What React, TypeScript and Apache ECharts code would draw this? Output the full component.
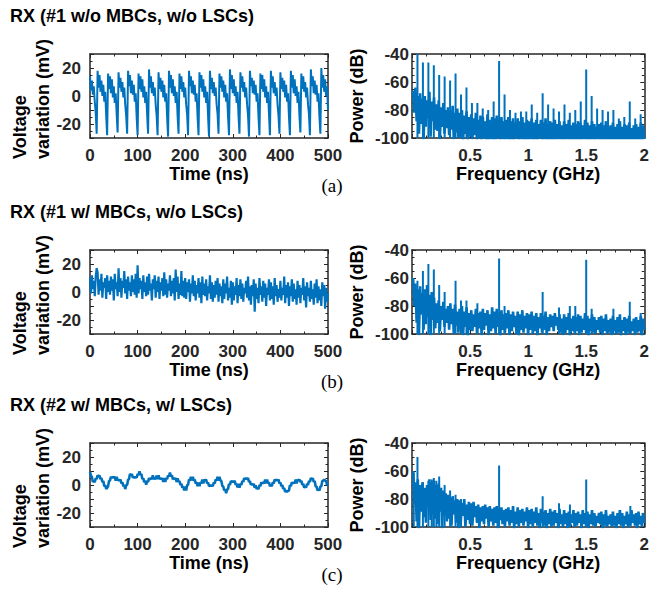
import React, { useEffect, useRef } from "react";
import * as echarts from "echarts";

// ---------- DATA ----------
const TIME_STEP_NS = 2;
const FREQ_STEP_GHZ = 0.01;

const titles = [
  "RX (#1 w/o MBCs, w/o LSCs)",
  "RX (#1 w/ MBCs, w/o LSCs)",
  "RX (#2 w/ MBCs, w/ LSCs)",
];
const panelLabels = ["(a)", "(b)", "(c)"];
const timeTicks = [0, 100, 200, 300, 400, 500];
const voltTicks = [-20, 0, 20];
const freqTicks = [0.5, 1, 1.5, 2];
const powerTicks = [-100, -80, -60, -40];

// Voltage variation (mV), sampled every 2 ns
const voltageA = [
  14, 4, 11, 1, 7, -4, -12,
  -27, 18, 6, 15, 3, 11, 0, 8, -4, 3, -14,
  -28, 16, 5, 14, 2, 12, -1, 7, -5, 2, -13,
  -26, 17, 6, 13, 3, 10, -1, 6, -6, -14,
  -27, 18, 7, 15, 2, 11, 1, 8, -4, 2, -15,
  -28, 16, 5, 14, 3, 12, -1, 7, -5, 3, -13,
  -27, 19, 6, 14, 2, 10, 0, 6, -6, -14,
  -28, 17, 5, 13, 3, 11, -1, 8, -4, 2, -15,
  -29, 18, 6, 15, 2, 12, 0, 7, -5, 3, -14,
  -27, 16, 5, 14, 3, 10, -1, 6, -6, -13,
  -28, 18, 7, 14, 2, 11, 1, 8, -4, 2, -15,
  -28, 17, 6, 15, 3, 12, -1, 7, -5, 3, -14,
  -29, 18, 5, 13, 2, 10, 0, 6, -6, -13,
  -27, 16, 6, 14, 3, 11, -1, 8, -4, 2, -15,
  -28, 19, 5, 15, 2, 12, 0, 7, -5, 3, -14,
  -27, 17, 6, 14, 3, 10, -1, 6, -6, -14,
  -29, 18, 7, 13, 2, 11, 1, 8, -4, 2, -15,
  -28, 16, 5, 15, 3, 12, -1, 7, -5, 3, -13,
  -28, 18, 6, 14, 2, 10, 0, 6, -6, -14,
  -27, 17, 5, 13, 3, 11, -1, 8, -4, 2, -15,
  -28, 18, 6, 15, 2, 12, 0, 7, -5, 3, -14,
  -26, 16, 5, 14, 3, 10, -1, 6, -6, -13,
  -28, 19, 7, 14, 2, 11, 1, 8, -4, 2, -15,
  -27, 20, 6, 15, 3, 12, 0, 7, -10,
];

const voltageB = [
  10, -1, 12, 2, 8, -3, 11, 17, 14, -2,
  9, 1, 13, -4, 7, 3, 10, -5, 12, 0,
  8, -2, 11, 1, 9, -6, 13, 2, 7, -3,
  17, 0, 10, -4, 8, 3, 15, -1, 9, -5,
  11, 1, 7, -3, 12, 0, 9, -2, 13, -4,
  19, -1, 10, 2, 8, -5, 12, 0, 7, -3,
  11, -2, 13, 1, 6, -6, 9, 2, 12, -4,
  8, 0, 11, -5, 7, 1, 10, -3, 14, -2,
  9, -4, 6, 1, 12, -3, 8, -1, 10, -6,
  16, 0, 11, -5, 6, -2, 15, -3, 8, -4,
  10, -5, 7, 0, 9, -7, 6, -1, 12, -3,
  8, -6, 5, -1, 10, -4, 7, -8, 11, -2,
  6, -3, 9, -6, 4, -1, 12, -5, 7, -7,
  5, -4, 8, -2, 10, -7, 6, -3, 4, -8,
  9, -5, 6, -1, 11, -6, 3, -4, 8, -9,
  7, -6, 4, -2, 10, -8, 5, -3, 9, -5,
  6, -7, 3, -1, 8, -4, 11, -6, 4, -9,
  5, -3, 9, -14, 6, -5, 3, -8, 10, -2,
  4, -7, 8, -4, 6, -10, 3, -2, 9, -6,
  7, -5, 4, -9, 10, -3, 5, -7, 2, -4,
  8, -6, 3, -2, 11, -8, 5, -4, 7, -10,
  4, -3, 9, -7, 6, -5, 2, -9, 8, -4,
  5, -8, 3, -2, 10, -6, 4, -11, 7, -3,
  3, -7, 8, -5, 2, -9, 6, -4, 9, -8,
  4, -6, 2, -10, 7, -3, 5, -12, 3, -7,
  -1,
];

const voltageC = [
  9.5, 6.5, 5.8, 2.2, 2.9, 2.1, 4.8, 4.2, 6.9, 6.1, 6.8,
  4.2, 4.9, 2.1, 2.8, -0.9, -0.2, -2.8, -2.1, -0.8, 2.9,
  3.2, 5.9, 5.1, 5.8, 5.2, 5.9, 3.1, 5.8, 3.2, 3.9,
  3.1, 3.8, 1.2, 1.9, -0.8, -0.1, -2.9, -0.2, 0.1, 3.8,
  4.2, 7.9, 7.1, 7.8, 5.2, 5.9, 5.1, 5.9, 5.2, 7.8,
  7.2, 9.8, 7.1, 7.9, 4.2, 4.8, 2.1, 2.9, 0.2, 2.8,
  2.2, 4.9, 4.1, 4.8, 4.2, 6.9, 4.1, 4.9, 4.2, 6.8,
  4.1, 6.9, 4.2, 4.9, 4.1, 4.8, 2.2, 4.9, 2.1, 4.9,
  4.2, 6.8, 6.1, 8.9, 6.2, 6.9, 4.1, 4.8, 4.2, 4.9,
  2.1, 4.8, 2.2, 2.9, 0.1, 0.8, -1.9, -1.2, -3.8, -1.1,
  -3.9, -0.2, 0.1, 3.9, 3.1, 5.8, 3.2, 5.9, 3.1, 3.8,
  1.2, 1.9, -0.9, 1.8, -0.8, 1.9, 1.1, 3.9, 1.2, 3.8,
  3.2, 3.9, 1.1, 1.8, -0.9, -0.2, -0.8, -0.1, -0.9, 1.8,
  1.1, 3.9, 3.2, 5.9, 3.1, 5.8, 3.2, 2.9, -0.8, -1.1,
  -3.9, -3.1, -5.8, -3.2, -2.9, 0.8, 0.1, 2.9, 2.1, 2.8,
  2.1, 2.9, 0.2, 0.9, -1.8, 0.9, -1.9, 0.8, 0.1, 2.9,
  2.2, 4.9, 4.1, 4.9, 4.2, 4.9, 2.1, 2.8, 0.2, 0.9,
  0.1, 0.8, -1.9, -0.2, -2.8, -2.1, -2.9, -0.1, -0.9, 1.9,
  1.1, 1.9, 1.2, 3.9, 1.1, 3.8, 1.2, 1.9, -0.9, -0.1,
  -0.8, 1.9, 1.1, 3.8, 3.2, 3.9, 3.1, 3.9, 1.2, 1.8,
  -0.9, -0.1, -2.8, -2.1, -4.9, -4.1, -4.8, -4.2, -3.9, -0.1,
  -0.8, 1.9, 1.1, 1.9, 1.2, 3.9, 1.1, 3.8, 3.2, 3.9,
  2.1, 2.9, 0.2, 0.8, -1.9, -1.1, -1.8, 0.9, 0.1, 2.9,
  2.2, 4.9, 4.1, 4.8, 2.2, 2.9, -0.9, -1.2, -3.9, -3.1,
  -3.8, -1.1, -0.9, 2.9, 3.1, 3.9, 3.2, 2.9, 0.1, 0.8,
];

// Power spectrum noise floor (dB), sampled every 0.01 GHz from 0.01 GHz
// (values under -100 dB fall below the plotted range)
const floorA = [
  -66, -82, -64, -88, -70, -97, -68, -90, -72, -101,
  -70, -92, -73, -86, -67, -99, -74, -88, -71, -94,
  -76, -95, -73, -101, -78, -92, -75, -97, -80, -93,
  -78, -98, -81, -94, -77, -101, -82, -96, -79, -100,
  -82, -99, -80, -102, -84, -97, -81, -103, -85, -99,
  -83, -101, -86, -98, -82, -104, -87, -100, -84, -102,
  -85, -100, -88, -103, -83, -104, -87, -101, -85, -102,
  -86, -103, -84, -100, -87, -104, -85, -101, -88, -103,
  -87, -101, -85, -104, -88, -102, -86, -103, -89, -100,
  -86, -104, -88, -101, -85, -103, -89, -102, -87, -104,
  -88, -101, -86, -103, -89, -102, -87, -104, -90, -100,
  -87, -103, -89, -101, -86, -104, -90, -102, -88, -103,
  -89, -102, -87, -104, -90, -101, -88, -103, -91, -104,
  -88, -103, -90, -101, -87, -104, -91, -102, -89, -103,
  -90, -102, -88, -104, -89, -103, -91, -101, -87, -103,
  -89, -104, -91, -102, -88, -103, -90, -104, -92, -101,
  -90, -103, -89, -104, -91, -102, -88, -103, -92, -104,
  -91, -104, -89, -102, -92, -103, -90, -104, -88, -102,
  -92, -102, -90, -104, -91, -103, -89, -104, -93, -102,
  -91, -104, -90, -103, -92, -102, -89, -104, -91, -101,
];
const floorB = [
  -60, -80, -64, -92, -68, -101, -66, -86, -71, -97,
  -68, -93, -65, -88, -72, -101, -70, -90, -74, -96,
  -78, -92, -76, -98, -80, -90, -77, -95, -82, -92,
  -80, -97, -78, -93, -82, -100, -79, -94, -84, -99,
  -82, -96, -80, -101, -84, -95, -81, -102, -85, -97,
  -83, -98, -86, -95, -82, -100, -85, -96, -84, -101,
  -82, -97, -85, -94, -83, -101, -86, -98, -81, -96,
  -84, -100, -82, -95, -85, -102, -83, -97, -86, -99,
  -85, -96, -83, -101, -86, -98, -84, -95, -87, -100,
  -84, -102, -86, -97, -83, -99, -87, -96, -85, -101,
  -86, -97, -84, -100, -87, -98, -85, -102, -88, -96,
  -85, -99, -87, -97, -84, -101, -88, -98, -86, -95,
  -87, -98, -85, -94, -88, -97, -86, -99, -89, -101,
  -86, -100, -88, -97, -85, -102, -89, -98, -87, -99,
  -88, -98, -86, -101, -87, -99, -89, -97, -85, -100,
  -87, -102, -89, -98, -86, -99, -88, -100, -90, -97,
  -88, -99, -87, -101, -89, -98, -86, -100, -90, -99,
  -89, -101, -87, -98, -90, -100, -88, -99, -86, -102,
  -90, -98, -88, -101, -89, -99, -87, -100, -91, -98,
  -89, -101, -88, -99, -90, -98, -87, -102, -89, -97,
];
const floorC = [
  -60, -84, -68, -96, -66, -101, -70, -89, -68, -93,
  -72, -97, -70, -86, -66, -95, -68, -91, -67, -94,
  -70, -98, -69, -89, -72, -101, -74, -92, -76, -96,
  -77, -94, -79, -99, -78, -91, -81, -97, -80, -101,
  -81, -96, -83, -92, -80, -100, -84, -95, -82, -98,
  -83, -99, -82, -93, -85, -97, -84, -101, -86, -96,
  -85, -98, -84, -94, -86, -100, -85, -96, -87, -99,
  -86, -97, -85, -101, -87, -95, -86, -98, -88, -100,
  -87, -96, -86, -99, -88, -97, -85, -101, -89, -98,
  -86, -100, -88, -97, -87, -99, -89, -96, -86, -101,
  -88, -98, -87, -100, -89, -97, -86, -99, -90, -101,
  -87, -97, -89, -99, -88, -101, -90, -98, -87, -100,
  -89, -99, -88, -97, -90, -101, -87, -98, -91, -100,
  -88, -98, -90, -101, -89, -99, -91, -97, -88, -100,
  -90, -99, -89, -97, -91, -101, -88, -98, -90, -100,
  -89, -101, -91, -98, -88, -99, -90, -100, -92, -97,
  -90, -98, -89, -101, -91, -99, -88, -100, -92, -98,
  -91, -100, -89, -99, -92, -101, -90, -98, -88, -99,
  -90, -101, -92, -98, -89, -100, -91, -99, -88, -97,
  -91, -99, -90, -101, -89, -98, -92, -100, -90, -97,
];

// Spectral lines: frequency (GHz) and peak power (dB)
const spikeFreqA = [
  0.047, 0.094, 0.141, 0.188, 0.234, 0.281, 0.328, 0.375, 0.422, 0.469,
  0.516, 0.563, 0.609, 0.656, 0.703, 0.75, 0.797, 0.844, 0.891, 0.938,
  0.984, 1.031, 1.078, 1.125, 1.172, 1.219, 1.266, 1.313, 1.359, 1.406,
  1.453, 1.5, 1.547, 1.594, 1.641, 1.688, 1.734, 1.781, 1.828, 1.875,
  1.922, 1.969,
];
const spikePowA = [
  -40, -46, -46, -48, -55, -56, -59, -54, -69, -64,
  -75, -75, -79, -80, -74, -45, -69, -80, -82, -81,
  -81, -76, -82, -68, -76, -79, -81, -76, -82, -80,
  -74, -51, -70, -79, -80, -81, -80, -86, -85, -74,
  -86, -83,
];
const spikeFreqB = [
  0.047, 0.094, 0.141, 0.188, 0.234, 0.281, 0.375, 0.422, 0.469, 0.563,
  0.75, 0.797, 1.125, 1.266, 1.359, 1.406, 1.5, 1.547, 1.734, 1.875, 1.969,
];
const spikePowB = [
  -62, -55, -50, -54, -65, -70, -62, -76, -76, -78,
  -46, -80, -70, -81, -80, -80, -47, -82, -82, -77, -85,
];
const spikeFreqC = [
  0.015, 0.047, 0.094, 0.141, 0.17, 0.188, 0.21, 0.234, 0.281, 0.328,
  0.375, 0.422, 0.75, 1.125, 1.266, 1.36, 1.5, 1.88,
];
const spikePowC = [
  -61, -50, -68, -67, -66, -65, -67, -64, -70, -74,
  -77, -80, -56, -78, -83, -84, -66, -85,
];

// ---------- BUILD ----------
const timeSeries = (vals: number[]) => vals.map((v, i) => [i * TIME_STEP_NS, v]);
const floorSeries = (floor: number[]) =>
  floor.map((v, i) => [+((i + 1) * FREQ_STEP_GHZ).toFixed(3), v]);
const spikeSeries = (sf: number[], sp: number[]) => {
  const pts: any[] = [];
  sf.forEach((f, i) => {
    pts.push([f, -100], [f, sp[i]], [f, "-"]);
  });
  return pts;
};

const timeData = [voltageA, voltageB, voltageC].map(timeSeries);
const floorData = [floorA, floorB, floorC].map(floorSeries);
const spikeData = [
  spikeSeries(spikeFreqA, spikePowA),
  spikeSeries(spikeFreqB, spikePowB),
  spikeSeries(spikeFreqC, spikePowC),
];

const AXIS_COLOR = "#262626";
const LINE_COLOR = "#0072BD";
const FONT = "Liberation Sans";
const timeWidths = [2.0, 2.2, 2.6];

export default function App() {
  const ref = useRef<HTMLDivElement>(null);
  useEffect(() => {
    document.body.style.margin = "0";
    const chart = echarts.init(ref.current!, undefined, { renderer: "svg" });

    const rowTops = [54, 250, 443];
    const gridH = 84;
    const leftX = 90;
    const rightX = 412;
    const gridW = 238;

    const grids: any[] = [];
    const xAxes: any[] = [];
    const yAxes: any[] = [];
    const series: any[] = [];
    const graphics: any[] = [];

    const axisLine = { show: true, onZero: false, lineStyle: { color: AXIS_COLOR, width: 1.5 } };
    const tickStyle = { show: true, inside: true, length: 4, lineStyle: { color: AXIS_COLOR, width: 1 } };
    const labelStyle = { color: AXIS_COLOR, fontSize: 17, fontWeight: "bold", fontFamily: FONT };

    rowTops.forEach((top, r) => {
      for (let c = 0; c < 2; c++) {
        const g = grids.length;
        grids.push({ left: c === 0 ? leftX : rightX, top, width: gridW, height: gridH, containLabel: false });
        const isTime = c === 0;
        const xBase = isTime
          ? { min: 0, max: 500, interval: 100, minorSplit: 2 }
          : { min: 0, max: 2, interval: 0.5, minorSplit: 4 };
        const yBase = isTime
          ? { min: -30, max: 30, interval: 10, minorSplit: 2 }
          : { min: -100, max: -40, interval: 20, minorSplit: 4 };
        const xLabelSet = isTime ? timeTicks : freqTicks;
        const yLabelSet = isTime ? voltTicks : powerTicks;
        [0, 1].forEach((k) => {
          xAxes.push({
            type: "value",
            gridIndex: g,
            position: k === 0 ? "bottom" : "top",
            min: xBase.min,
            max: xBase.max,
            interval: xBase.interval,
            axisLine,
            axisTick: tickStyle,
            minorTick: { show: true, splitNumber: xBase.minorSplit, length: 2.5, lineStyle: { color: AXIS_COLOR, width: 1 } },
            splitLine: { show: false },
            minorSplitLine: { show: false },
            axisLabel:
              k === 0
                ? {
                    ...labelStyle,
                    margin: 9,
                    showMinLabel: true,
                    showMaxLabel: true,
                    formatter: (v: number) => (xLabelSet.indexOf(v) >= 0 ? String(v) : ""),
                  }
                : { show: false },
            name: k === 0 ? (isTime ? "Time (ns)" : "Frequency (GHz)") : "",
            nameLocation: "middle",
            nameGap: 25,
            nameTextStyle: { color: "#000", fontSize: 18, fontWeight: "bold", fontFamily: FONT },
          });
          yAxes.push({
            type: "value",
            gridIndex: g,
            position: k === 0 ? "left" : "right",
            min: yBase.min,
            max: yBase.max,
            interval: yBase.interval,
            axisLine,
            axisTick: tickStyle,
            minorTick: { show: true, splitNumber: yBase.minorSplit, length: 2.5, lineStyle: { color: AXIS_COLOR, width: 1 } },
            splitLine: { show: false },
            minorSplitLine: { show: false },
            axisLabel:
              k === 0
                ? {
                    ...labelStyle,
                    margin: isTime ? 9 : 3,
                    showMinLabel: true,
                    showMaxLabel: true,
                    formatter: (v: number) => (yLabelSet.indexOf(v) >= 0 ? String(v) : ""),
                  }
                : { show: false },
          });
        });
        if (isTime) {
          series.push({
            type: "line",
            xAxisIndex: 2 * g,
            yAxisIndex: 2 * g,
            data: timeData[r],
            showSymbol: false,
            symbol: "none",
            clip: true,
            lineStyle: { color: LINE_COLOR, width: timeWidths[r] },
          });
        } else {
          series.push({
            type: "line",
            xAxisIndex: 2 * g,
            yAxisIndex: 2 * g,
            data: floorData[r],
            showSymbol: false,
            symbol: "none",
            clip: true,
            lineStyle: { color: LINE_COLOR, width: 2.6 },
          });
          series.push({
            type: "line",
            xAxisIndex: 2 * g,
            yAxisIndex: 2 * g,
            data: spikeData[r],
            showSymbol: false,
            symbol: "none",
            clip: true,
            connectNulls: false,
            lineStyle: { color: LINE_COLOR, width: 2 },
          });
        }
      }

      const bottom = top + gridH;
      graphics.push({
        type: "text",
        left: 10,
        top: top - 47,
        style: { text: titles[r], font: `bold 18px "${FONT}"`, fill: "#000" },
      });
      graphics.push({
        type: "text",
        x: 20,
        y: bottom + 21,
        rotation: Math.PI / 2,
        style: { text: "Voltage", font: `bold 18px "${FONT}"`, fill: "#000", align: "left", verticalAlign: "middle" },
      });
      graphics.push({
        type: "text",
        x: 43,
        y: bottom + 21,
        rotation: Math.PI / 2,
        style: { text: "variation (mV)", font: `bold 18px "${FONT}"`, fill: "#000", align: "left", verticalAlign: "middle" },
      });
      graphics.push({
        type: "text",
        x: 357,
        y: top + gridH / 2,
        rotation: Math.PI / 2,
        style: { text: "Power (dB)", font: `bold 18px "${FONT}"`, fill: "#000", align: "center", verticalAlign: "middle" },
      });
      graphics.push({
        type: "text",
        x: 332,
        y: bottom + 47,
        style: { text: panelLabels[r], font: `19px "Liberation Serif"`, fill: "#000", align: "center", verticalAlign: "middle" },
      });
    });

    chart.setOption({
      animation: false,
      backgroundColor: "#fff",
      grid: grids,
      xAxis: xAxes,
      yAxis: yAxes,
      series,
      graphic: graphics,
    });
    return () => chart.dispose();
  }, []);
  return <div ref={ref} style={{ width: 652, height: 590 }} />;
}
